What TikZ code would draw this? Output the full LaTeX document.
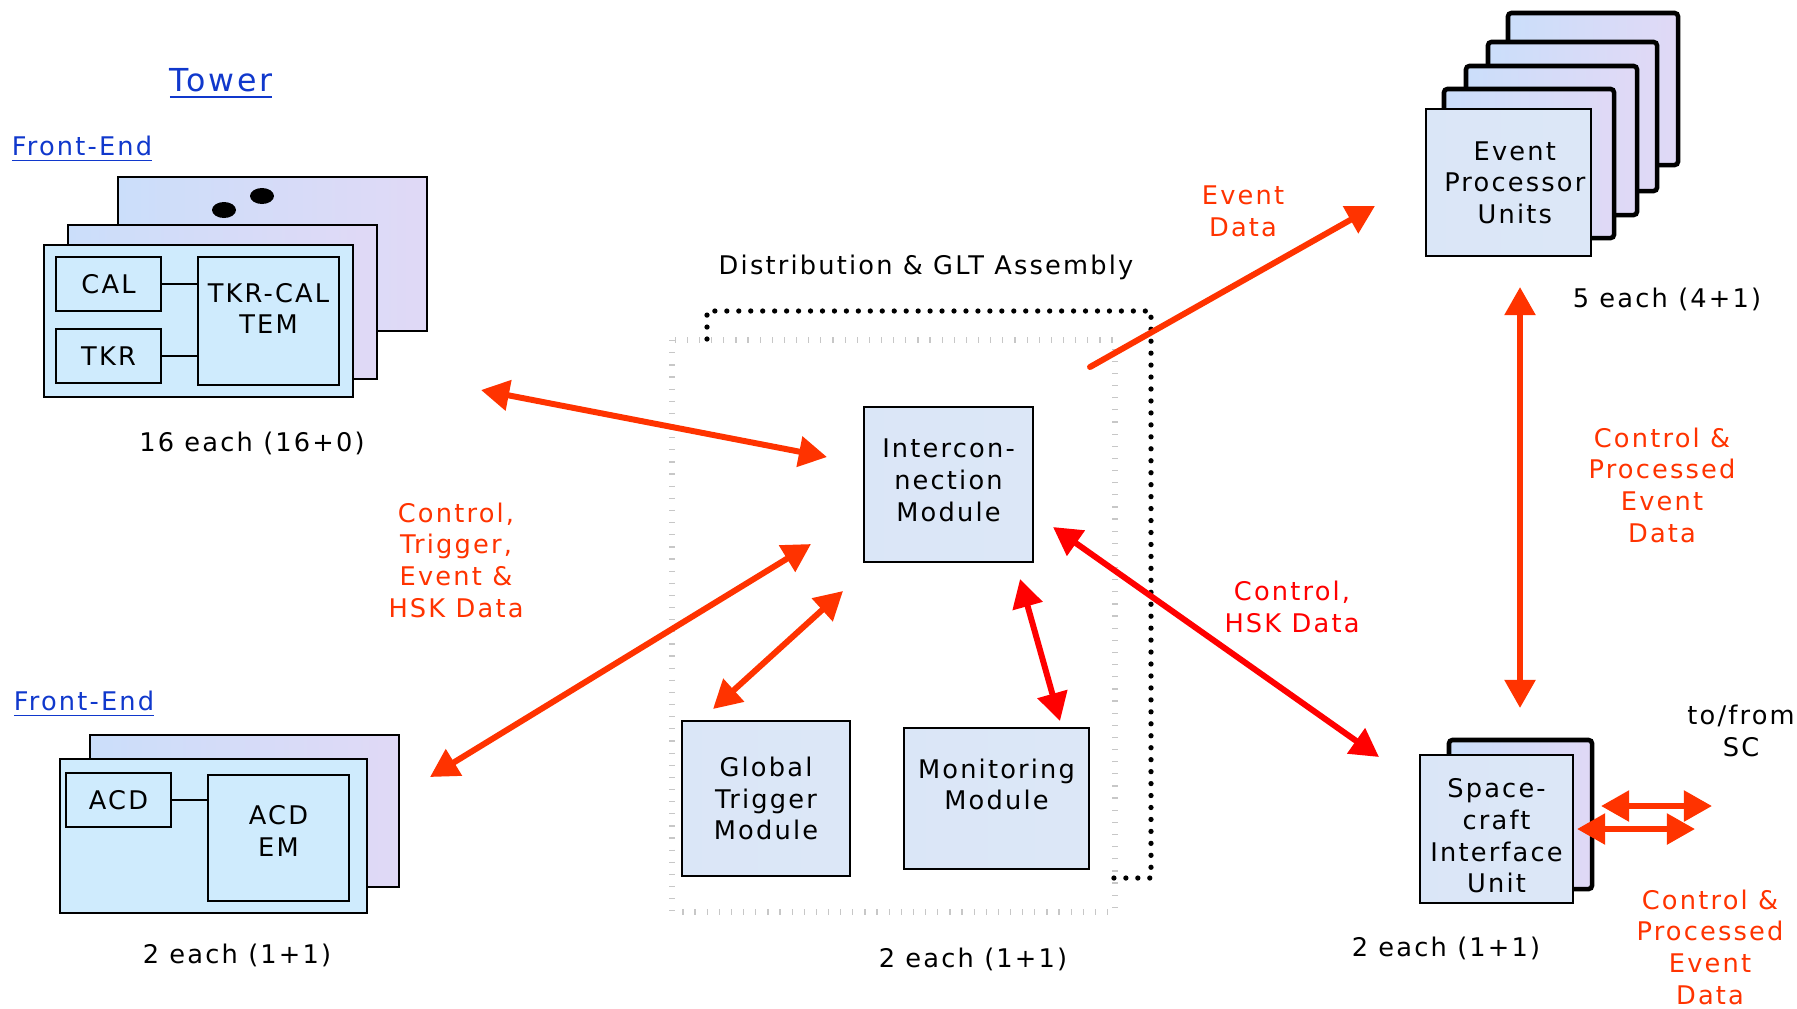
\documentclass[tikz,border=0pt]{standalone}
\usepackage{fontspec}
\setmainfont{DejaVu Sans}[LetterSpace=8.5]
\usepackage{tikz}
\usetikzlibrary{arrows.meta,calc}
\definecolor{linkblue}{RGB}{16,56,204}
\definecolor{sigorange}{RGB}{255,51,0}
\definecolor{sigred}{RGB}{255,0,0}
\definecolor{paleblue}{RGB}{207,235,253}
\definecolor{modfill}{RGB}{220,231,247}
\definecolor{texA}{RGB}{203,222,250}
\definecolor{texB}{RGB}{224,217,246}
\tikzset{
>={Triangle[length=8pt,width=8.5pt]},
every node/.style={font=\fontsize{7.3}{9}\selectfont},
card/.style={draw,line width=0.6pt,inner sep=0pt,align=center},
flat card/.style={card,fill=paleblue},
tex card/.style={card,left color=texA,right color=texB},
heavy card/.style={tex card,line width=1.3pt,rounded corners=1pt},
mod box/.style={card,left color=modfill!90!texA,right color=modfill},
lbl/.style={align=center,inner sep=0pt},
sig lbl/.style={lbl,text=sigorange},
link/.style={lbl,text=linkblue},
freccia/.style={<->,line width=1.7pt,color=sigorange},
freccia rossa/.style={freccia,color=sigred},
tick box/.style={line width=1.8pt,black!22,dash pattern=on 0.35pt off 3.1pt},
dot line/.style={line width=1.5pt,line cap=round,dash pattern=on 0pt off 3.4pt}}

\begin{document}
\begin{tikzpicture}[x=0.01cm,y=-0.01cm]
      \useasboundingbox (0,0) rectangle (1797,1008);

      \node[link,font=\fontsize{9}{11}\selectfont] (tower) at (221,84) {\underline{Tower}};
      \node[link] (fe1) at (82,149) {\underline{Front-End}};
      \node[link] (fe2) at (84,704) {\underline{Front-End}};

      \node[tex card,minimum width=3.09cm,minimum height=1.54cm] (twr3) at (272.5,254) {};
      \fill (224,210) ellipse (12 and 8);
      \fill (262,196) ellipse (12 and 8);
      \node[tex card,minimum width=3.09cm,minimum height=1.54cm] (twr2) at (222.5,302) {};
      \node[flat card,minimum width=3.09cm,minimum height=1.52cm] (twr1) at (198.5,321) {};
      \node[flat card,minimum width=1.05cm,minimum height=0.54cm] (cal) at (108.5,284) {CAL};
      \node[flat card,minimum width=1.05cm,minimum height=0.54cm] (tkr) at (108.5,356) {TKR};
      \node[flat card,minimum width=1.41cm,minimum height=1.28cm,
            label={[lbl,yshift=3.6pt]center:TKR-CAL\\TEM}] (tem) at (268.5,321) {};
      \draw[line width=0.6pt] (cal.east) -- (cal.east -| tem.west) (tkr.east) -- (tkr.east -| tem.west);
      \node[lbl] (twrn) at (252,443) {16 each (16+0)};

      \node[tex card,minimum width=3.09cm,minimum height=1.52cm] (acd2) at (244.5,811) {};
      \node[flat card,minimum width=3.07cm,minimum height=1.54cm] (acd1) at (213.5,836) {};
      \node[flat card,minimum width=1.05cm,minimum height=0.54cm] (acd) at (118.5,800) {ACD};
      \node[flat card,minimum width=1.41cm,minimum height=1.26cm,
            label={[lbl,yshift=2pt]center:ACD\\EM}] (acdem) at (278.5,838) {};
      \draw[line width=0.6pt] (acd.east) -- (acd.east -| acdem.west);
      \node[lbl] (acdn) at (237,955) {2 each (1+1)};

      \node[lbl] (glt) at (926,267) {Distribution \& GLT Assembly};
      \draw[tick box] (672,340) rectangle (1115,912);
      \draw[dot line] (707,339) -- (707,311) -- (1151,311) -- (1151,878) -- (1112,878);
      \node[mod box,minimum width=1.69cm,minimum height=1.55cm,
            label={[lbl,yshift=1.2pt]center:Intercon-\\nection\\Module}] (icm) at (948.5,484.5) {};
      \node[mod box,minimum width=1.68cm,minimum height=1.55cm] (gtm) at (766,798.5) {Global\\Trigger\\Module};
      \node[mod box,minimum width=1.85cm,minimum height=1.41cm,
            label={[lbl,yshift=4pt]center:Monitoring\\Module}] (mm) at (996.5,798.5) {};
      \node[lbl] (gltn) at (973,959) {2 each (1+1)};

      \node[heavy card,minimum width=1.70cm,minimum height=1.52cm] (epu5) at (1593,89) {};
      \node[heavy card,minimum width=1.69cm,minimum height=1.49cm] (epu4) at (1572.5,116.5) {};
      \node[heavy card,minimum width=1.71cm,minimum height=1.49cm] (epu3) at (1551.5,140.5) {};
      \node[heavy card,minimum width=1.70cm,minimum height=1.49cm] (epu2) at (1529,163.5) {};
      \node[mod box,minimum width=1.65cm,minimum height=1.47cm,
            label={[lbl,xshift=1.8pt]center:Event\\Processor\\Units}] (epu1) at (1508.5,182.5) {};
      \node[lbl] (epun) at (1667,299) {5 each (4+1)};

      \node[heavy card,minimum width=1.43cm,minimum height=1.49cm] (siu2) at (1520.5,814.5) {};
      \node[mod box,minimum width=1.53cm,minimum height=1.48cm,
            label={[lbl,yshift=-2pt]center:Space-\\craft\\Interface\\Unit}] (siu1) at (1496.5,829) {};
      \node[lbl] (siun) at (1446,948) {2 each (1+1)};
      \node[lbl] (sc) at (1741,731) {to/from\\SC};

      \coordinate (twrA) at (481,390);  \coordinate (twrB) at (827,457);
      \coordinate (acdA) at (430,777);  \coordinate (acdB) at (811,544);
      \coordinate (gtmA) at (713,709);  \coordinate (gtmB) at (843,591);
      \coordinate (mmA) at (1020,579);  \coordinate (mmB) at (1060,721);
      \coordinate (siuA) at (1053,527); \coordinate (siuB) at (1379,757);
      \coordinate (epuA) at (1090,367); \coordinate (epuB) at (1375,206);
      \coordinate (vA) at (1520,287);   \coordinate (vB) at (1520,708);
      \coordinate (scA) at (1601,806);  \coordinate (scB) at (1712,806);
      \coordinate (scC) at (1577,829);  \coordinate (scD) at (1695,829);

      \path[freccia] (twrA) edge (twrB) (acdA) edge (acdB) (gtmA) edge (gtmB) (vA) edge (vB)
            (scA) edge (scB) (scC) edge (scD);
      \path[freccia rossa] (mmA) edge (mmB) (siuA) edge (siuB);
      \draw[freccia,<-,line cap=round] (epuB) -- (epuA);

      \node[sig lbl] (evdata) at (1243,211) {Event\\Data};
      \node[sig lbl] (ctlepu) at (1662,485) {Control \&\\Processed\\Event\\Data};
      \node[sig lbl,text=sigred] (ctlhsk) at (1292,607) {Control,\\HSK Data};
      \node[sig lbl] (ctlfe) at (456,560) {Control,\\Trigger,\\Event \&\\HSK Data};
      \node[sig lbl] (ctlsc) at (1710,947) {Control \&\\Processed\\Event\\Data};
\end{tikzpicture}
\end{document}
